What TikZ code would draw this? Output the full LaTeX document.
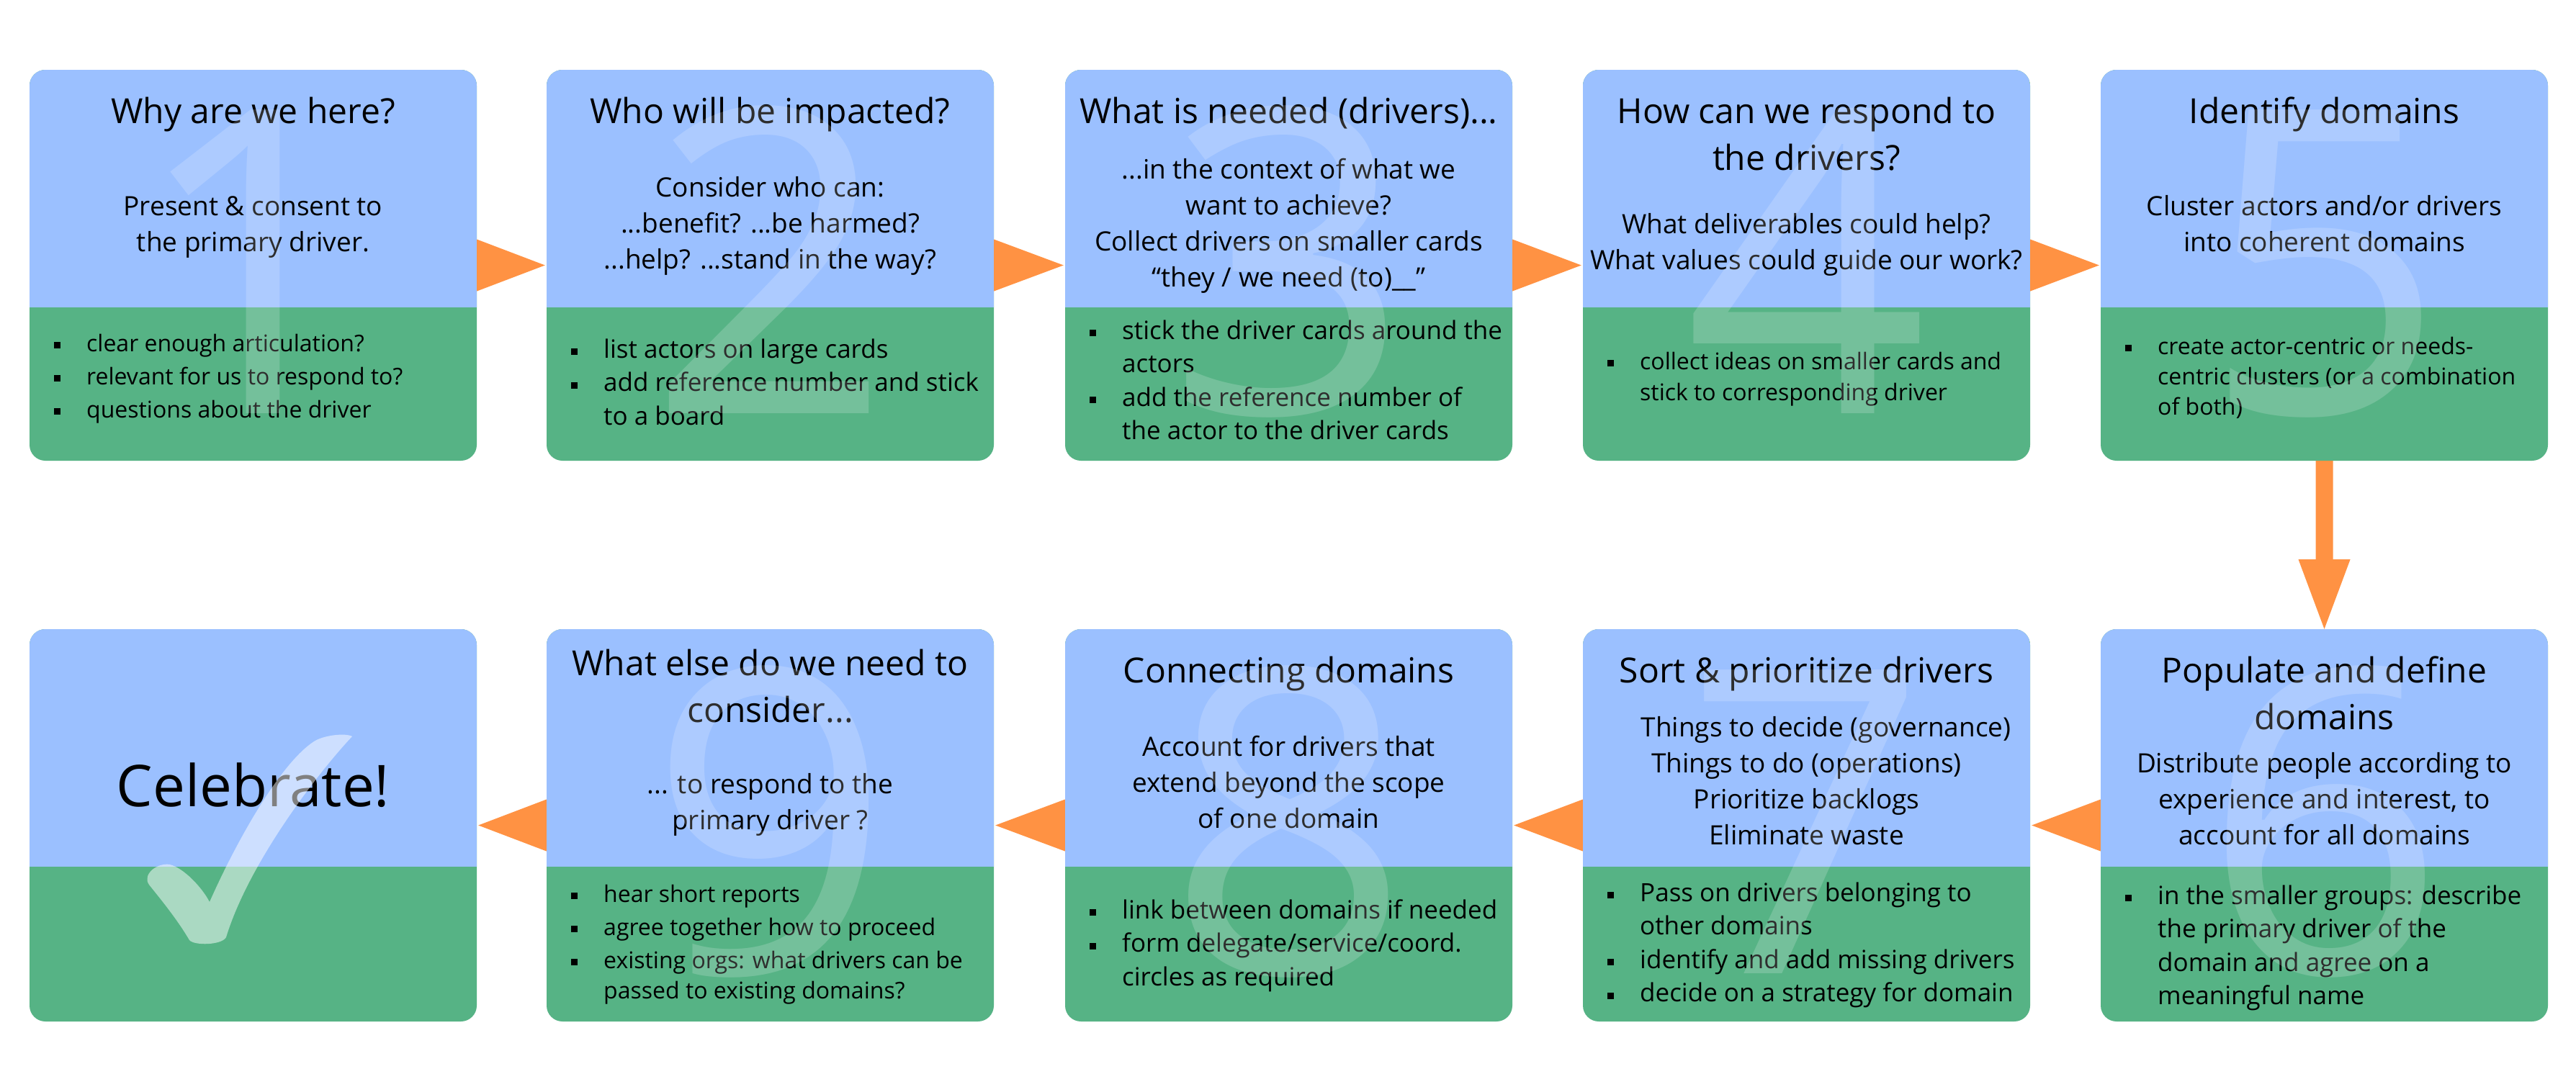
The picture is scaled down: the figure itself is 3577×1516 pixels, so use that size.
\documentclass[tikz,border=0pt]{standalone}
\usepackage{fontspec}
\setmainfont{Open Sans}
\usetikzlibrary{calc}
\definecolor{cblue}{RGB}{155,192,255}
\definecolor{cgreen}{RGB}{86,179,133}
\definecolor{corange}{RGB}{255,146,67}
\newcommand{\bsq}{\rule[4pt]{9pt}{9pt}}
\begin{document}
\begin{tikzpicture}[x=1pt,y=-1pt,
  card/.style={rectangle, rounded corners=22pt, minimum width=621pt, inner sep=0pt, fill=cgreen,
    path picture={\fill[cblue, sharp corners] (path picture bounding box.north west) rectangle ([yshift=-330pt]path picture bounding box.north east);}},
  rowA/.style={minimum height=543pt},
  rowB/.style={minimum height=545pt},
  ttl/.style={anchor=base, inner sep=0pt, font=\fontsize{48}{65}\selectfont},
  bdy/.style={anchor=base, inner sep=0pt, font=\fontsize{37}{50}\selectfont},
  bulA/.style={anchor=base west, inner sep=0pt, font=\fontsize{35}{46.5}\selectfont},
  bulB/.style={anchor=base west, inner sep=0pt, font=\fontsize{32}{46}\selectfont},
  digit/.style={anchor=base, inner sep=0pt, text=white, text opacity=0.18, font=\fontsize{591}{600}\selectfont},
  arr/.style={fill=corange, draw=none}]
\fill[white] (0,0) rectangle (3577,1516);
\useasboundingbox (0,0) rectangle (3577,1516);

% cards
\node[card,rowA] (b1) at (351.5,368.5) {};
\node[card,rowA] (b2) at (1069.5,368.5) {};
\node[card,rowA] (b3) at (1789.5,368.5) {};
\node[card,rowA] (b4) at (2508.5,368.5) {};
\node[card,rowA] (b5) at (3227.5,368.5) {};
\node[card,rowB] (b6) at (3227.5,1146.5) {};
\node[card,rowB] (b7) at (2508.5,1146.5) {};
\node[card,rowB] (b8) at (1789.5,1146.5) {};
\node[card,rowB] (b9) at (1069.5,1146.5) {};
\node[card,rowB] (b10) at (351.5,1146.5) {};

% connectors
\fill[arr] ([yshift=36pt]b1.east) -- ([yshift=-36pt]b1.east) -- ([xshift=-2pt]b2.west) -- cycle;
\fill[arr] ([yshift=36pt]b2.east) -- ([yshift=-36pt]b2.east) -- ([xshift=-2pt]b3.west) -- cycle;
\fill[arr] ([yshift=36pt]b3.east) -- ([yshift=-36pt]b3.east) -- ([xshift=-2pt]b4.west) -- cycle;
\fill[arr] ([yshift=36pt]b4.east) -- ([yshift=-36pt]b4.east) -- ([xshift=-2pt]b5.west) -- cycle;
\fill[arr] ([xshift=-12pt]b5.south) -- ([xshift=-12pt,yshift=-137pt]b5.south) -- ([xshift=-36pt,yshift=-137pt]b5.south)
   -- (b6.north) -- ([xshift=36pt,yshift=-137pt]b5.south) -- ([xshift=12pt,yshift=-137pt]b5.south) -- ([xshift=12pt]b5.south) -- cycle;
\fill[arr] ([yshift=36pt]b6.west) -- ([yshift=-36pt]b6.west) -- ([xshift=2pt]b7.east) -- cycle;
\fill[arr] ([yshift=36pt]b7.west) -- ([yshift=-36pt]b7.west) -- ([xshift=2pt]b8.east) -- cycle;
\fill[arr] ([yshift=36pt]b8.west) -- ([yshift=-36pt]b8.west) -- ([xshift=2pt]b9.east) -- cycle;
\fill[arr] ([yshift=36pt]b9.west) -- ([yshift=-36pt]b9.west) -- ([xshift=2pt]b10.east) -- cycle;

% card 1
\node[ttl] (t1) at (351.5,171) {Why are we here?};
\node[bdy] (p1) at (351.5,299) {\begin{tabular}[t]{@{}c@{}}Present \& consent to\\the primary driver.\end{tabular}};
\node[bulB] (l1) at (75,488) {\begin{tabular}[t]{@{}l@{\hspace{36pt}}l@{}}\bsq & clear enough articulation?\\ \bsq & relevant for us to respond to?\\ \bsq & questions about the driver\end{tabular}};

% card 2
\node[ttl] (t2) at (1069.5,171) {Who will be impacted?};
\node[bdy] (p2) at (1069.5,273) {\begin{tabular}[t]{@{}c@{}}Consider who can:\\...benefit? ...be harmed?\\...help? ...stand in the way?\end{tabular}};
\node[bulA] (l2) at (793,497) {\begin{tabular}[t]{@{}l@{\hspace{36pt}}l@{}}\bsq & list actors on large cards\\ \bsq & add reference number and stick\\ & to a board\end{tabular}};

% card 3
\node[ttl] (t3) at (1789.5,171) {What is needed (drivers)...};
\node[bdy] (p3) at (1789.5,248) {\begin{tabular}[t]{@{}c@{}}...in the context of what we\\want to achieve?\\Collect drivers on smaller cards\\“they / we need (to)\_\_”\end{tabular}};
\node[bulA] (l3) at (1513,471) {\begin{tabular}[t]{@{}l@{\hspace{36pt}}l@{}}\bsq & stick the driver cards around the\\ & actors\\ \bsq & add the reference number of\\ & the actor to the driver cards\end{tabular}};

% card 4
\node[ttl] (t4) at (2508.5,171) {\begin{tabular}[t]{@{}c@{}}How can we respond to\\the drivers?\end{tabular}};
\node[bdy] (p4) at (2508.5,324) {\begin{tabular}[t]{@{}c@{}}What deliverables could help?\\What values could guide our work?\end{tabular}};
\node[bulB] (l4) at (2232,513) {\begin{tabular}[t]{@{}l@{\hspace{36pt}}l@{}}\bsq & collect ideas on smaller cards and\\[-3pt] & stick to corresponding driver\end{tabular}};

% card 5
\node[ttl] (t5) at (3227.5,171) {Identify domains};
\node[bdy] (p5) at (3227.5,299) {\begin{tabular}[t]{@{}c@{}}Cluster actors and/or drivers\\into coherent domains\end{tabular}};
\node[bulB] (l5) at (2951,492) {\begin{tabular}[t]{@{}l@{\hspace{36pt}}l@{}}\bsq & create actor-centric or needs-\\[-4pt] & centric clusters (or a combination\\[-4pt] & of both)\end{tabular}};

% card 6
\node[ttl] (t6) at (3227.5,948) {\begin{tabular}[t]{@{}c@{}}Populate and define\\domains\end{tabular}};
\node[bdy] (p6) at (3227.5,1073) {\begin{tabular}[t]{@{}c@{}}Distribute people according to\\experience and interest, to\\account for all domains\end{tabular}};
\node[bulA] (l6) at (2951,1256) {\begin{tabular}[t]{@{}l@{\hspace{36pt}}l@{}}\bsq & in the smaller groups: describe\\ & the primary driver of the\\ & domain and agree on a\\ & meaningful name\end{tabular}};

% card 7
\node[ttl] (t7) at (2508.5,948) {Sort \& prioritize drivers};
\node[bdy] (p7) at (2508.5,1023) {\begin{tabular}[t]{@{}c@{}}\hspace*{54pt}Things to decide (governance)\\Things to do (operations)\\Prioritize backlogs\\Eliminate waste\end{tabular}};
\node[bulA] (l7) at (2232,1252) {\begin{tabular}[t]{@{}l@{\hspace{36pt}}l@{}}\bsq & Pass on drivers belonging to\\ & other domains\\ \bsq & identify and add missing drivers\\ \bsq & decide on a strategy for domain\end{tabular}};

% card 8
\node[ttl] (t8) at (1789.5,948) {Connecting domains};
\node[bdy] (p8) at (1789.5,1050) {\begin{tabular}[t]{@{}c@{}}Account for drivers that\\extend beyond the scope\\of one domain\end{tabular}};
\node[bulA] (l8) at (1513,1276) {\begin{tabular}[t]{@{}l@{\hspace{36pt}}l@{}}\bsq & link between domains if needed\\ \bsq & form delegate/service/coord.\\ & circles as required\end{tabular}};

% card 9
\node[ttl] (t9) at (1069.5,938) {\begin{tabular}[t]{@{}c@{}}What else do we need to\\consider...\end{tabular}};
\node[bdy] (p9) at (1069.5,1102) {\begin{tabular}[t]{@{}c@{}}... to respond to the\\primary driver ?\end{tabular}};
\node[bulB] (l9) at (793,1253) {\begin{tabular}[t]{@{}l@{\hspace{36pt}}l@{}}\bsq & hear short reports\\ \bsq & agree together how to proceed\\ \bsq & existing orgs: what drivers can be\\[-4pt] & passed to existing domains?\end{tabular}};

% card 10
\node[anchor=base, inner sep=0pt, font=\fontsize{80}{96}\selectfont] (cel) at (351.5,1120) {Celebrate!};

% faint numbers
\node[digit] (d1) at (351.5,574) {1};
\node[digit] (d2) at (1069.5,574) {2};
\node[digit] (d3) at (1789.5,574) {3};
\node[digit] (d4) at (2508.5,574) {4};
\node[digit] (d5) at (3227.5,574) {5};
\node[digit] (d6) at (3227.5,1352) {6};
\node[digit] (d7) at (2508.5,1352) {7};
\node[digit] (d8) at (1789.5,1352) {8};
\node[digit] (d9) at (1069.5,1352) {9};

% check mark
\fill[white, opacity=0.5] (489,1023) .. controls (440,1075) and (345,1200) .. (314,1302)
  .. controls (308,1313) and (270,1314) .. (263,1306)
  .. controls (245,1275) and (218,1243) .. (207,1229)
  .. controls (197,1215) and (218,1198) .. (236,1201)
  .. controls (255,1206) and (280,1232) .. (291,1253)
  .. controls (330,1165) and (390,1060) .. (436,1030)
  .. controls (450,1021) and (480,1018) .. (489,1023) -- cycle;
\end{tikzpicture}
\end{document}
